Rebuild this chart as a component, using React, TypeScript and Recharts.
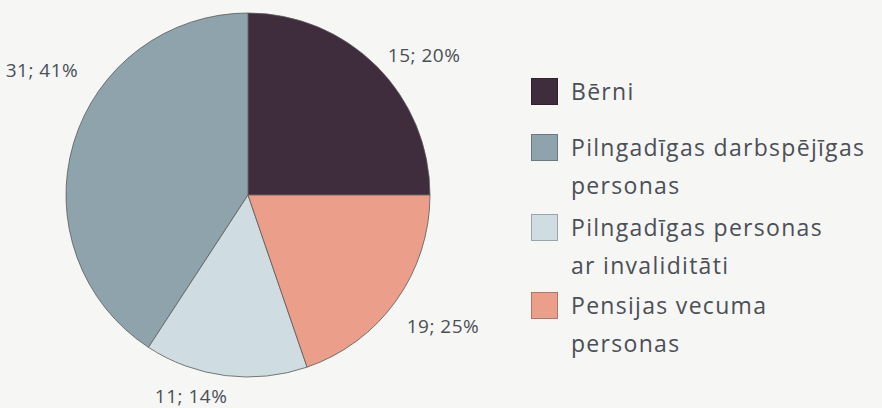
import { PieChart, Pie, Cell, Legend } from "recharts";

// slice sizes as drawn, in order counter-clockwise from 3 o'clock
const categories = [
  "Bērni",
  "Pilngadīgas darbspējīgas\npersonas",
  "Pilngadīgas personas\nar invaliditāti",
  "Pensijas vecuma\npersonas",
];
const values = [19, 31, 11, 15];
// label texts as printed next to each slice
const labelTexts = ["15; 20%", "31; 41%", "11; 14%", "19; 25%"];
const colors = ["#3f2d3e", "#8ea3ab", "#cfdce2", "#eb9e8a"];

// label placement: angle shift from the slice middle, distance from the edge
const labelShift = [
  { da: -6.5, dr: 43 },
  { da: -14.7, dr: 59 },
  { da: -8.7, dr: 27 },
  { da: 1.6, dr: 53 },
];
const legendGap = [18, 4, 2, 0];

const data = categories.map((name, i) => ({
  name,
  value: values[i],
  label: labelTexts[i],
}));

const FONT = "'Open Sans', Lato, sans-serif";
const TEXT = "#4b4f57";

const renderLabel = (props: any) => {
  const { cx, cy, midAngle, outerRadius, index } = props;
  const s = labelShift[index];
  const a = ((midAngle + s.da) * Math.PI) / 180;
  const r = outerRadius + s.dr;
  const x = cx + r * Math.cos(a);
  const y = cy - r * Math.sin(a);
  return (
    <text
      x={x}
      y={y}
      fill={TEXT}
      fontSize={19}
      letterSpacing={0.5}
      fontFamily={FONT}
      textAnchor="middle"
      dominantBaseline="central"
    >
      {labelTexts[index]}
    </text>
  );
};

const LegendContent = () => (
  <div style={{ fontFamily: FONT, color: TEXT, fontSize: 23, letterSpacing: 1.3 }}>
    {categories.map((c, i) => (
      <div
        key={c}
        style={{
          display: "flex",
          alignItems: "flex-start",
          marginBottom: legendGap[i],
        }}
      >
        <div
          style={{
            width: 25,
            height: 25,
            marginTop: 6,
            marginRight: 13,
            background: colors[i],
            border: "1px solid rgba(0,0,0,0.25)",
            flex: "none",
          }}
        />
        <div style={{ whiteSpace: "pre-line", lineHeight: "38px" }}>{c}</div>
      </div>
    ))}
  </div>
);

export default function App() {
  return (
    <div
      style={{
        position: "absolute",
        left: 0,
        top: 0,
        width: 882,
        height: 408,
        background: "#f6f6f4",
      }}
    >
      <PieChart width={882} height={408} margin={{ top: 0, right: 0, bottom: 0, left: 0 }}>
        <Pie
          data={data}
          dataKey="value"
          nameKey="name"
          cx={248}
          cy={195}
          outerRadius={182}
          startAngle={0}
          endAngle={360}
          stroke="#5a5a5a"
          strokeWidth={0.8}
          label={renderLabel}
          labelLine={false}
          isAnimationActive={false}
        >
          {data.map((d, i) => (
            <Cell key={d.name} fill={colors[i]} />
          ))}
        </Pie>
        <Legend
          content={<LegendContent />}
          wrapperStyle={{ left: 531, top: 72, width: 351 }}
        />
      </PieChart>
    </div>
  );
}
